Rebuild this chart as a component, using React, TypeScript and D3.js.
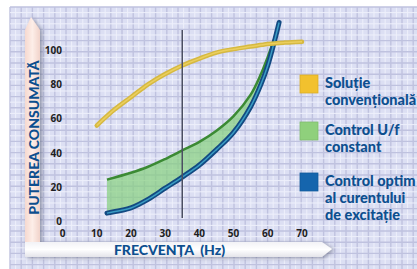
import React from 'react';
import * as d3 from 'd3';

// values (frequency in Hz, consumed power in %)
const xTicks = [0, 10, 20, 30, 40, 50, 60, 70];
const yTicks = [0, 20, 40, 60, 80, 100];

const conventional: [number, number][] = [
  [10, 56], [15, 65], [20, 72.5], [25, 80], [30, 86], [35, 91], [40, 95],
  [45, 98.5], [50, 100.5], [55, 102], [60, 103.5], [65, 104.3], [70, 104.8],
];
const ufConstant: [number, number][] = [
  [13, 24.5], [20, 28.5], [25, 32], [30, 36.5], [35, 41.5], [40, 46.5],
  [45, 53], [50, 61.5], [55, 74], [58, 86], [60, 96], [61.8, 106],
];
const optimal: [number, number][] = [
  [13, 5], [17, 6.5], [20, 8], [25, 13], [30, 19.5], [35, 26], [40, 33],
  [45, 42], [50, 52], [55, 67], [58, 80], [60, 91], [62, 105.5], [63.3, 116],
];
const markerFreq = 35;

const legendItems = [
  { color: '#f2c12e', lines: ['Soluție', 'convențională'] },
  { color: '#8fd07c', lines: ['Control U/f', 'constant'] },
  { color: '#1565ad', lines: ['Control optim', 'al curentului', 'de excitație'] },
];

const W = 417;
const H = 269;
const blue = '#0d4f8f';

export default function App() {
  const x = d3.scaleLinear().domain([0, 70]).range([62.5, 302]);
  const y = d3.scaleLinear().domain([0, 100]).range([221.7, 50]);

  const line = d3.line<[number, number]>()
    .x(d => x(d[0]))
    .y(d => y(d[1]))
    .curve(d3.curveCatmullRom.alpha(0.5));

  const blueUnder = optimal.filter(d => d[0] <= 62);
  const bandPath = line(ufConstant) + 'L' + (line([...blueUnder].reverse()) || '').slice(1) + 'Z';

  // background grid lines
  const gridX = d3.range(10, W, 5.6);
  const gridY = d3.range(7, H, 5.6);

  const legendY = [75, 122, 173];

  return (
    <svg width={W} height={H} style={{ position: 'absolute', left: 0, top: 0 }}
      fontFamily="Lato, 'Open Sans', sans-serif">
      <defs>
        <filter id="sh" x="-20%" y="-20%" width="140%" height="140%">
          <feGaussianBlur in="SourceAlpha" stdDeviation="2" />
          <feOffset dx="2" dy="1" result="b" />
          <feFlood floodColor="#555a70" floodOpacity="0.6" />
          <feComposite in2="b" operator="in" />
          <feMerge>
            <feMergeNode />
            <feMergeNode in="SourceGraphic" />
          </feMerge>
        </filter>
        <linearGradient id="vbar" x1="0" x2="1" y1="0" y2="0">
          <stop offset="0" stopColor="#f6d9d0" />
          <stop offset="0.5" stopColor="#fdeee8" />
          <stop offset="1" stopColor="#f1d3ca" />
        </linearGradient>
        <linearGradient id="hbar" x1="0" x2="0" y1="0" y2="1">
          <stop offset="0" stopColor="#f2f2f6" />
          <stop offset="0.5" stopColor="#ffffff" />
          <stop offset="1" stopColor="#e4e4ea" />
        </linearGradient>
      </defs>

      <rect width={W} height={H} fill="#fff" />
      <rect x={10} y={7} width={W - 10} height={H - 7} fill="#dcdff3" />
      {gridX.map((gx, i) => (
        <line key={'gx' + i} x1={gx} x2={gx} y1={7} y2={H}
          stroke={i % 2 ? '#eef0fb' : '#bfc2df'} strokeWidth={i % 2 ? 1 : 1.4} />
      ))}
      {gridY.map((gy, i) => (
        <line key={'gy' + i} x1={10} x2={W} y1={gy} y2={gy}
          stroke={i % 2 ? '#eef0fb' : '#bfc2df'} strokeWidth={i % 2 ? 1 : 1.4} />
      ))}

      {/* axis frame */}
      <g filter="url(#sh)">
        <path d="M25,30 L31,17 L40,30 L40,242 L25,242 Z" fill="url(#vbar)" />
        <path d="M25,242 L322,242 L332,249 L322,257 L25,257 Z" fill="url(#hbar)" />
      </g>

      {/* curves */}
      <path d={bandPath} fill="#86d07e" fillOpacity={0.7} />
      <path d={line(ufConstant) || ''} fill="none" stroke="#3b8a34" strokeWidth={2.5} />
      <path d={line(optimal) || ''} fill="none" stroke="#134a82" strokeWidth={5} strokeLinecap="round" />
      <path d={line(optimal) || ''} fill="none" stroke="#3a9cc4" strokeWidth={1.5} />
      <path d={line(conventional) || ''} fill="none" stroke="#d6b941" strokeWidth={4.5} strokeLinecap="round" />
      <path d={line(conventional) || ''} fill="none" stroke="#ebcf5e" strokeWidth={1.5} />

      <line x1={x(markerFreq)} x2={x(markerFreq)} y1={30} y2={218} stroke="#4b4f62" strokeWidth={1.5} />

      {/* tick labels */}
      <g fontSize={10} fontWeight={700} fill="#1e1e22" fontFamily="'Open Sans', sans-serif">
        {yTicks.map(t => (
          <text key={'y' + t} x={62} y={y(t)} dy="0.35em" textAnchor="end">{t}</text>
        ))}
        {xTicks.map(t => (
          <text key={'x' + t} x={x(t)} y={233} dy="0.35em" textAnchor="middle">{t}</text>
        ))}
      </g>

      {/* axis titles */}
      <text transform="translate(39,137.5) rotate(-90)" textAnchor="middle" fontSize={14}
        fontWeight={900} fill={blue}>PUTEREA CONSUMATĂ</text>
      <text x={169.5} y={255} textAnchor="middle" fontSize={14} fontWeight={900} fill={blue}
        style={{ whiteSpace: 'pre' }}>{'FRECVENȚA  (Hz)'}</text>

      {/* legend */}
      {legendItems.map((item, i) => (
        <g key={i}>
          <rect x={300} y={legendY[i]} width={18} height={18} fill={item.color}
            stroke={d3.color(item.color)?.darker(0.3).toString()} strokeWidth={0.8} />
          {item.lines.map((ln, j) => (
            <text key={j} x={325} y={legendY[i] + 13 + j * 17} fontSize={14.5} fontWeight={900} fill={blue}>{ln}</text>
          ))}
        </g>
      ))}
    </svg>
  );
}
